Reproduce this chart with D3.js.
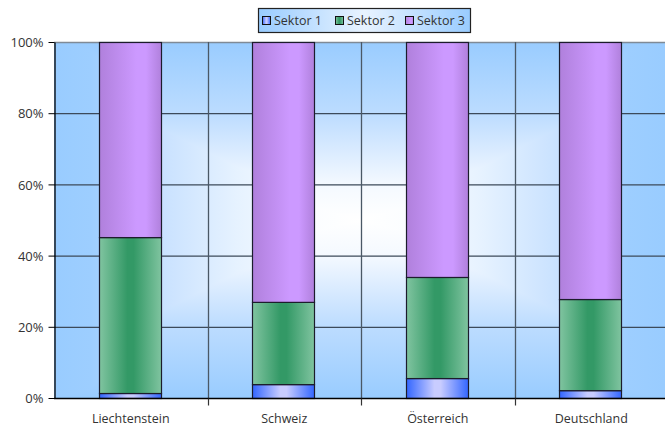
<!DOCTYPE html>
<html>
<head>
<meta charset="utf-8">
<script src="https://cdn.jsdelivr.net/npm/d3@7"></script>
<style>
  body { margin: 0; background: #fff; }
  text { font-family: "Open Sans", sans-serif; fill: #333; }
</style>
</head>
<body>
<div id="chart-container"></div>
<script>
'use strict'

// values in percent
var countries = ['Liechtenstein', 'Schweiz', 'Österreich', 'Deutschland']
var sektor1 = [1.4, 3.9, 5.6, 2.2]
var sektor2 = [43.8, 23.1, 28.4, 25.6]
var sektor3 = [54.8, 73.0, 66.0, 72.2]
var seriesNames = ['Sektor 1', 'Sektor 2', 'Sektor 3']
var yTicks = [0, 20, 40, 60, 80, 100]

var W = 665, H = 425
var margins = { top: 42, bottom: 27, left: 54, right: -3 }

var svg = d3.select('#chart-container').append('svg')
    .attr('width', W).attr('height', H)

var defs = svg.append('defs')

// rectangular "from center" fill: a horizontal and a vertical gradient, darken-blended
var addSymGrad = function(id, vertical, stops) {
    var g = defs.append('linearGradient').attr('id', id)
        .attr('x1', 0).attr('y1', 0)
        .attr('x2', vertical ? 0 : 1).attr('y2', vertical ? 1 : 0)
    stops.forEach(function(s) {
        g.append('stop').attr('offset', s[0] / 2).attr('stop-color', s[1])
    })
    stops.slice().reverse().forEach(function(s) {
        g.append('stop').attr('offset', 1 - s[0] / 2).attr('stop-color', s[1])
    })
}
addSymGrad('bgH', false, [[0, '#99ccff'], [0.12, '#9dceff'], [0.33, '#c6e0ff'], [0.6, '#e6f2ff'], [0.85, '#fbfdff'], [1, '#ffffff']])
addSymGrad('bgV', true, [[0, '#99ccff'], [0.4, '#bcdcff'], [0.6, '#d8eaff'], [0.8, '#f4f9ff'], [1, '#ffffff']])

// horizontal shading of the bars, per series
var barGrads = [
    ['#3366ff', '#c8ccff', '#c8ccff', '#3366ff'],
    ['#80c4a0', '#339966', '#339966', '#80c4a0'],
    ['#b080dc', '#cc99ff', '#cc99ff', '#b080dc']
]
var gradOffsets = [0, 0.45, 0.55, 1]
barGrads.forEach(function(cols, i) {
    var g = defs.append('linearGradient').attr('id', 'bar' + i)
        .attr('x1', 0).attr('x2', 1).attr('y1', 0).attr('y2', 0)
    cols.forEach(function(c, j) {
        g.append('stop').attr('offset', gradOffsets[j]).attr('stop-color', c)
    })
})
// purple gets its light part a bit right of center
d3.select('#bar2').selectAll('stop').attr('offset', function(d, j) { return [0, 0.6, 0.75, 1][j] })

var lg = defs.append('linearGradient').attr('id', 'legbg')
    .attr('x1', 0).attr('x2', 1).attr('y1', 0).attr('y2', 0)
lg.append('stop').attr('offset', 0).attr('stop-color', '#99ccff')
lg.append('stop').attr('offset', 0.5).attr('stop-color', '#e8f3ff')
lg.append('stop').attr('offset', 1).attr('stop-color', '#99ccff')

var width = W - margins.left - margins.right
var height = H - margins.top - margins.bottom

var x = d3.scaleBand().domain(countries).range([margins.left, margins.left + width])
var y = d3.scaleLinear().domain([0, 100]).range([margins.top + height, margins.top])

// plot background
var bgG = svg.append('g').style('isolation', 'isolate')
bgG.append('rect')
    .attr('x', margins.left).attr('y', margins.top)
    .attr('width', width - 3).attr('height', height)
    .style('fill', 'url(#bgH)')
bgG.append('rect')
    .attr('x', margins.left).attr('y', margins.top)
    .attr('width', width - 3).attr('height', height)
    .style('fill', 'url(#bgV)')
    .style('mix-blend-mode', 'darken')

// horizontal grid
svg.append('g').selectAll('line').data(yTicks.slice(1))
    .enter().append('line')
    .attr('x1', margins.left).attr('x2', margins.left + width)
    .attr('y1', d => y(d) + 0.5).attr('y2', d => y(d) + 0.5)
    .style('stroke', d => d === 100 ? '#7f8a96' : '#3c4a5a')
    .style('stroke-width', 1.3)

// vertical grid at category borders
svg.append('g').selectAll('line').data(countries.slice(1))
    .enter().append('line')
    .attr('x1', d => Math.round(x(d)) + 0.5).attr('x2', d => Math.round(x(d)) + 0.5)
    .attr('y1', margins.top).attr('y2', margins.top + height)
    .style('stroke', '#4a5866').style('stroke-width', 1.3)

// stacked bars
var rows = countries.map(function(c, i) {
    return { country: c, s0: sektor1[i], s1: sektor2[i], s2: sektor3[i] }
})
var stack = d3.stack().keys(['s0', 's1', 's2'])(rows)
var barW = x.bandwidth() * 0.405

svg.append('g').selectAll('g').data(stack)
    .enter().append('g')
    .style('fill', (d, i) => 'url(#bar' + i + ')')
    .selectAll('rect').data(d => d)
    .enter().append('rect')
    .attr('x', d => Math.round(x(d.data.country) + (x.bandwidth() - barW) / 2) - 0.5)
    .attr('width', Math.round(barW))
    .attr('y', d => y(d[1]) + 0.5)
    .attr('height', d => y(d[0]) - y(d[1]))
    .style('stroke', '#1c1c2c').style('stroke-width', 1.2)

// axes
var yAxis = d3.axisLeft(y).tickValues(yTicks).tickSize(6).tickSizeOuter(0)
    .tickFormat(d => d + '%')
var ya = svg.append('g')
    .attr('transform', 'translate(' + (margins.left + 0.5) + ',0)')
    .call(yAxis)
ya.select('.domain').style('stroke', '#000').style('stroke-width', 1.3)
ya.selectAll('.tick line').style('stroke', '#000')
ya.selectAll('.tick text').attr('x', -11).attr('dy', '0.36em')
    .style('font-size', '13px').style('fill', '#333')

var xa = svg.append('g')
    .attr('transform', 'translate(0,' + (margins.top + height + 0.5) + ')')
xa.append('line')
    .attr('x1', margins.left).attr('x2', margins.left + width)
    .style('stroke', '#000').style('stroke-width', 1.3)
xa.selectAll('.xt').data(countries.slice(1))
    .enter().append('line').attr('class', 'xt')
    .attr('x1', d => Math.round(x(d)) + 0.5).attr('x2', d => Math.round(x(d)) + 0.5)
    .attr('y1', 0).attr('y2', 7)
    .style('stroke', '#333').style('stroke-width', 1.2)
xa.selectAll('text').data(countries)
    .enter().append('text')
    .attr('x', d => x(d) + x.bandwidth() / 2)
    .attr('y', 24)
    .style('text-anchor', 'middle')
    .style('font-size', '12.5px')
    .text(d => d)

// legend
var legend = svg.append('g').attr('transform', 'translate(258,8)')
legend.append('rect')
    .attr('x', 0.5).attr('y', 0.5).attr('width', 212).attr('height', 24)
    .style('fill', 'url(#legbg)').style('stroke', '#222').style('stroke-width', 1.2)
var legX = d3.scaleOrdinal().domain(seriesNames).range([4, 77, 147])
var item = legend.selectAll('.item').data(seriesNames)
    .enter().append('g').attr('class', 'item')
    .attr('transform', d => 'translate(' + legX(d) + ',0)')
item.append('rect')
    .attr('x', 0.5).attr('y', 8.5).attr('width', 8).attr('height', 8)
    .style('fill', (d, i) => 'url(#bar' + i + ')')
    .style('stroke', '#111').style('stroke-width', 1)
item.append('text')
    .attr('x', 12).attr('y', 17)
    .style('font-size', '12.5px')
    .text(d => d)
</script>
</body>
</html>
